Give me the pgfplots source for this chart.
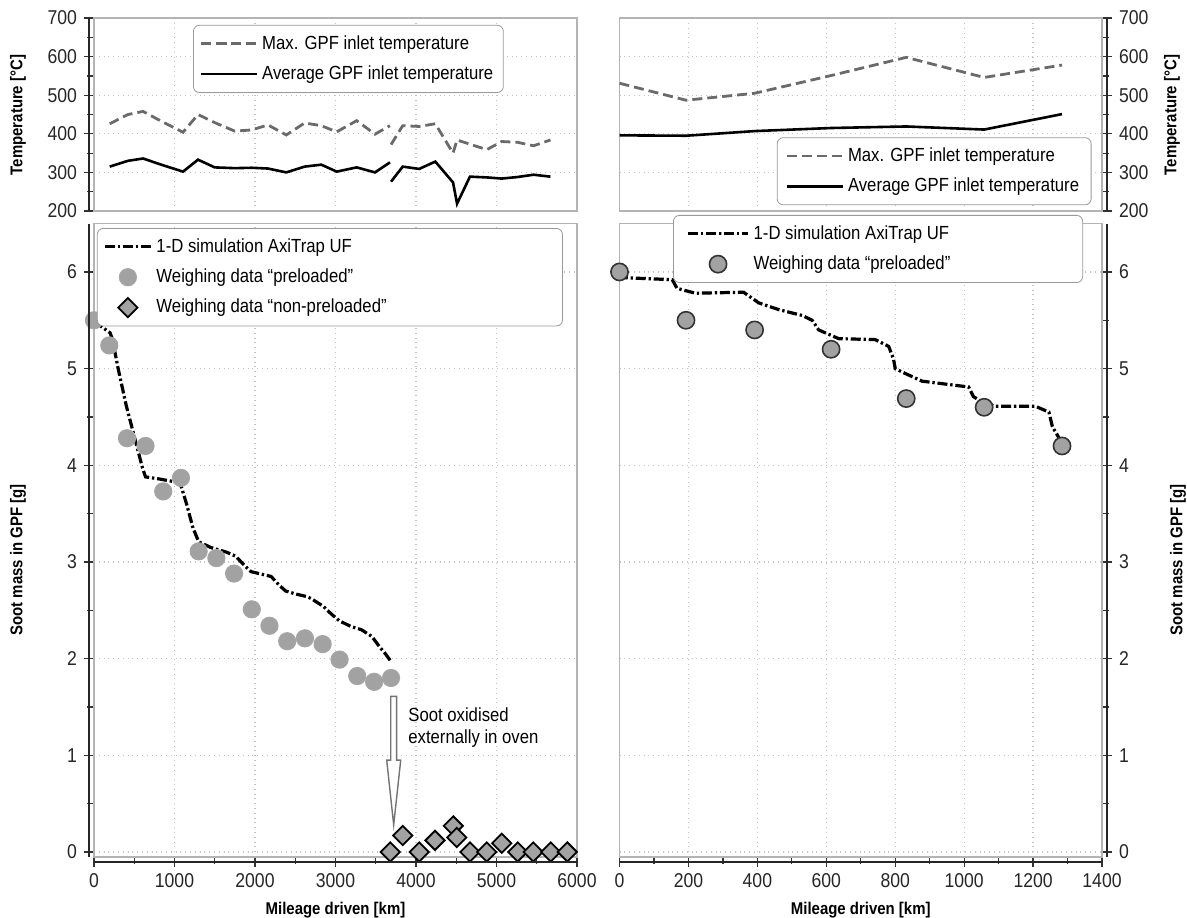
\documentclass[border=0pt]{standalone}
\usepackage{fontspec}
\setmainfont{Liberation Sans}[FakeStretch=0.88]
\usepackage{pgfplots}
\pgfplotsset{compat=1.18}

\definecolor{framegray}{HTML}{B4B4B4}
\definecolor{gridgray}{HTML}{C4C4C4}
\definecolor{dashgray}{HTML}{6A6A6A}
\definecolor{markgray}{HTML}{A2A2A2}

\pgfplotsset{
  base/.style={
    scale only axis, clip=false,
    axis line style={framegray, line width=0.8pt},
    grid=major, major grid style={gridgray, dotted, line width=0.6pt},
    tick align=outside, major tick length=5pt, minor tick length=3.5pt,
    tick style={black!80, line width=0.6pt},
    scaled ticks=false,
    /pgf/number format/1000 sep={},
    /pgf/number format/assume math mode=true,
    ticklabel style={font=\fontsize{10}{12}\selectfont, text=black!85},
    label style={font=\bfseries\fontsize{8.5}{10}\selectfont},
    legend style={draw=black!40, rounded corners=3pt, font=\fontsize{9.5}{11}\selectfont,
      row sep=2.8pt, inner xsep=3pt, inner ysep=3pt, fill=white},
    legend cell align=left,
  },
  leg28/.style={legend image code/.code={\draw[mark repeat=2,mark phase=2,##1] plot coordinates {(0pt,0pt)(14pt,0pt)(28pt,0pt)};}},
  leg30/.style={legend image code/.code={\draw[mark repeat=2,mark phase=2,##1] plot coordinates {(0pt,0pt)(15pt,0pt)(30pt,0pt)};}},
  leg23/.style={legend image code/.code={\draw[mark repeat=2,mark phase=2,##1] plot coordinates {(0pt,0pt)(11.5pt,0pt)(23pt,0pt)};}},
  maxT/.style={dashgray, line width=1.4pt, dash pattern=on 5pt off 2.5pt},
  avgT/.style={black, line width=1.3pt},
  sim/.style={black, line width=1.6pt, dash pattern=on 5pt off 1.4pt on 1.2pt off 1.4pt},
}

\begin{document}
\begin{tikzpicture}
\path[use as bounding box] (0,0) rectangle (593.5pt,458.5pt);

% ---------------- top left: temperatures ----------------
\begin{axis}[base, leg28, name=lt, at={(47pt,353pt)}, anchor=south west,
  width=241.5pt, height=96.5pt,
  xmin=0, xmax=6000, ymin=200, ymax=700,
  xtick={0,1000,...,6000}, xticklabels={}, xmajorticks=false,
  ytick={200,300,...,700}, minor y tick num=1, ytick pos=left,
  unbounded coords=jump,
  legend style={at={(0.205,0.964)}, anchor=north west}]
\addplot[maxT] coordinates {
 (195,426) (422,450) (609,458) (850,431) (1106,404) (1292,450) (1510,428)
 (1748,407) (1960,410) (2161,423) (2389,397) (2617,428) (2824,421) (3015,405)
 (3263,434) (3490,399) (3677,421) (3684,nan)
 (3690,372) (3835,421) (4040,419) (4240,426) (4460,350) (4510,384) (4670,373)
 (4880,359) (5065,380) (5260,378) (5460,369) (5670,384)};
\addlegendentry{Max. GPF inlet temperature}
\addplot[avgT] coordinates {
 (195,315) (422,330) (609,336) (850,319) (1106,302) (1292,333) (1499,313)
 (1748,311) (1960,312) (2161,310) (2389,300) (2617,315) (2824,320) (3015,302)
 (3263,313) (3490,300) (3677,326) (3684,nan)
 (3690,276) (3835,315) (4040,309) (4240,328) (4460,274) (4510,219) (4670,289)
 (4880,287) (5065,284) (5260,288) (5460,294) (5670,289)};
\addlegendentry{Average GPF inlet temperature}
\end{axis}

% ---------------- top right: temperatures ----------------
\begin{axis}[base, leg28, name=rt, at={(309.75pt,353pt)}, anchor=south west,
  width=241.25pt, height=96.5pt,
  xmin=0, xmax=1400, ymin=200, ymax=700,
  xtick={0,200,...,1400}, xticklabels={}, xmajorticks=false,
  ytick={200,300,...,700}, minor y tick num=1, ytick pos=right,
  legend style={at={(0.326,0.03)}, anchor=south west, inner xsep=4pt}]
\addplot[maxT] coordinates {
 (0,531) (193,487) (392,505) (614,551) (832,598) (1058,546) (1284,578)};
\addlegendentry{Max. GPF inlet temperature}
\addplot[avgT] coordinates {
 (0,396) (193,395) (392,407) (614,415) (832,419) (1058,411) (1284,451)};
\addlegendentry{Average GPF inlet temperature}
\end{axis}

% ---------------- bottom left: soot mass ----------------
\begin{axis}[base, leg23, name=lb, at={(47pt,30.1pt)}, anchor=south west,
  width=241.5pt, height=316.6pt,
  xmin=0, xmax=6000, ymin=-0.05, ymax=6.5,
  xtick={0,1000,...,6000}, minor x tick num=1, xtick pos=bottom,
  ytick={0,1,...,6}, minor y tick num=1, ytick pos=left,
  xlabel={Mileage driven [km]},
  legend style={at={(0.006,0.993)}, anchor=north west}]
\addplot[sim] coordinates {
 (0,5.49) (100,5.43) (200,5.37) (230,5.30) (300,5.00) (400,4.62) (500,4.30)
 (600,3.98) (640,3.88) (800,3.86) (1000,3.83) (1080,3.79) (1150,3.60)
 (1230,3.35) (1300,3.21) (1450,3.15) (1650,3.10) (1760,3.06) (1850,2.98)
 (1950,2.90) (2100,2.87) (2200,2.85) (2300,2.76) (2380,2.70) (2500,2.67)
 (2650,2.64) (2700,2.62) (2850,2.54) (2950,2.46) (3050,2.39) (3200,2.33)
 (3320,2.30) (3450,2.23) (3550,2.12) (3620,2.05) (3690,1.97)};
\addlegendentry{\makebox[198pt][l]{1-D simulation AxiTrap UF}}
\addplot[only marks, mark=*, mark size=4.3pt, mark options={fill=markgray, draw=black!35, line width=0.5pt}] coordinates {
 (0,5.50) (190,5.24) (410,4.28) (640,4.20) (860,3.73) (1080,3.87) (1300,3.11)
 (1520,3.04) (1740,2.88) (1960,2.51) (2180,2.34) (2400,2.18) (2620,2.21)
 (2840,2.15) (3050,1.99) (3270,1.82) (3480,1.76) (3690,1.80)};
\addlegendentry{Weighing data “preloaded”}
\addplot[only marks, mark=square*, mark size=3.4pt, mark options={rotate=45, fill=markgray, draw=black, line width=0.9pt}] coordinates {
 (3680,0) (3835,0.17) (4040,0) (4236,0.12) (4463,0.27) (4506,0.15) (4671,0)
 (4878,0) (5065,0.09) (5263,0) (5457,0) (5673,0) (5880,0)};
\addlegendentry{Weighing data “non-preloaded”}
\draw[black!55, fill=white, line width=0.7pt]
 (axis cs:3686,1.61) -- (axis cs:3760,1.61) -- (axis cs:3760,0.95) -- (axis cs:3810,0.95)
 -- (axis cs:3723,0.28) -- (axis cs:3636,0.95) -- (axis cs:3686,0.95) -- cycle;
\node[anchor=north west, align=left, font=\fontsize{9.5}{11}\selectfont, inner sep=0pt]
 at (axis cs:3900,1.50) {Soot oxidised\\externally in oven};
\end{axis}

% ---------------- bottom right: soot mass ----------------
\begin{axis}[base, leg30, name=rb, at={(309.75pt,30.1pt)}, anchor=south west,
  width=241.25pt, height=316.6pt,
  xmin=0, xmax=1400, ymin=-0.05, ymax=6.5,
  xtick={0,200,...,1400}, minor x tick num=1, xtick pos=bottom,
  ytick={0,1,...,6}, minor y tick num=1, ytick pos=right,
  xlabel={Mileage driven [km]},
  legend style={at={(0.111,1.0136)}, anchor=north west, inner xsep=6.5pt}]
\addplot[sim] coordinates {
 (0,5.99) (17,5.94) (153,5.92) (167,5.83) (220,5.78) (360,5.79) (404,5.68)
 (462,5.61) (530,5.55) (559,5.50) (578,5.40) (636,5.31) (742,5.30) (781,5.23)
 (795,5.10) (800,5.00) (829,4.95) (878,4.87) (1013,4.81) (1027,4.71)
 (1050,4.66) (1090,4.61) (1207,4.61) (1246,4.55) (1256,4.40) (1284,4.23)};
\addlegendentry{\makebox[156pt][l]{1-D simulation AxiTrap UF}}
\addplot[only marks, mark=*, mark size=4.3pt, mark options={fill=markgray, draw=black!80, line width=0.8pt}] coordinates {
 (0,6.00) (193,5.50) (392,5.40) (614,5.20) (832,4.69) (1058,4.60) (1284,4.20)};
\addlegendentry{Weighing data “preloaded”}
\end{axis}

% ---------------- offset dark axis lines ----------------
\draw[black!85, line width=1pt] ([xshift=-2.5pt]lt.south west) -- ([xshift=-2.5pt]lt.north west);
\draw[black!85, line width=1pt] ([xshift=-2.5pt]lb.south west) -- ([xshift=-2.5pt]lb.north west);
\draw[black!85, line width=1pt] ([yshift=-2.5pt]lb.south west) -- ([yshift=-2.5pt]lb.south east);
\draw[black!85, line width=1pt] ([xshift=2.5pt]rt.south east) -- ([xshift=2.5pt]rt.north east);
\draw[black!85, line width=1pt] ([xshift=2.5pt]rb.south east) -- ([xshift=2.5pt]rb.north east);
\draw[black!85, line width=1pt] ([yshift=-2.5pt]rb.south west) -- ([yshift=-2.5pt]rb.south east);

% ---------------- y labels ----------------
\node[rotate=90, font=\bfseries\fontsize{8.5}{10}\selectfont] at (9pt,401pt) {Temperature [°C]};
\node[rotate=90, font=\bfseries\fontsize{8.5}{10}\selectfont] at (9pt,178.5pt) {Soot mass in GPF [g]};
\node[rotate=90, font=\bfseries\fontsize{8.5}{10}\selectfont] at (586pt,401pt) {Temperature [°C]};
\node[rotate=90, font=\bfseries\fontsize{8.5}{10}\selectfont] at (589pt,178.5pt) {Soot mass in GPF [g]};
\end{tikzpicture}
\end{document}
